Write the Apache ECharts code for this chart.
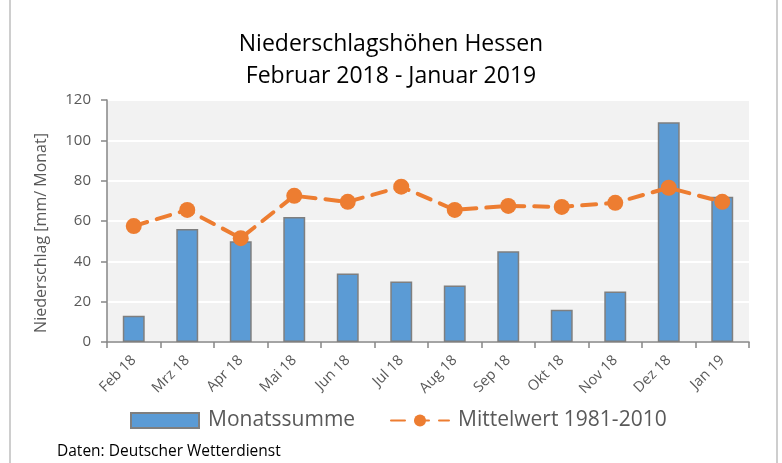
<!DOCTYPE html>
<html>
<head>
<meta charset="utf-8">
<script src="https://cdn.jsdelivr.net/npm/echarts@6/dist/echarts.min.js"></script>
<style>
  html, body { margin: 0; padding: 0; background: #fff; }
  #chart { width: 782px; height: 463px; }
</style>
</head>
<body>
<div id="chart"></div>
<script>
// Monate Feb 2018 - Jan 2019
const months = ['Feb 18', 'Mrz 18', 'Apr 18', 'Mai 18', 'Jun 18', 'Jul 18', 'Aug 18', 'Sep 18', 'Okt 18', 'Nov 18', 'Dez 18', 'Jan 19'];
const monatssumme = [13, 56, 50, 62, 34, 30, 28, 45, 16, 25, 109, 72];
const mittelwert = [57.5, 65.5, 51.5, 72.5, 69.5, 77, 65.5, 67.5, 67, 69, 76.5, 69.5];
const yTicks = [0, 20, 40, 60, 80, 100, 120];

const font = 'Open Sans';
const legendText = { fontFamily: font, fontSize: 21, color: '#595959', padding: [0, 0, 0, 4] };
const chart = echarts.init(document.getElementById('chart'));

chart.setOption({
  animation: false,
  textStyle: { fontFamily: font },
  title: {
    text: 'Niederschlagshöhen Hessen\nFebruar 2018 - Januar 2019',
    left: 'center',
    top: 23,
    textStyle: { fontFamily: font, fontSize: 23, fontWeight: 'normal', color: '#000', lineHeight: 32 }
  },
  graphic: [
    {
      type: 'rect',
      shape: { x: 10, y: -5, width: 767, height: 480 },
      style: { fill: 'none', stroke: '#bfbfbf', lineWidth: 1.5 },
      silent: true
    },
    {
      type: 'text',
      left: 57,
      top: 444,
      style: { text: 'Daten: Deutscher Wetterdienst', fontFamily: font, fontSize: 15.5, fill: '#000' }
    }
  ],
  legend: [
    {
      top: 405,
      left: 125,
      itemWidth: 68,
      itemHeight: 15,
      textStyle: legendText,
      data: [{ name: 'Monatssumme', icon: 'rect' }]
    },
    {
      top: 405,
      left: 385,
      itemWidth: 58,
      itemHeight: 15,
      textStyle: legendText,
      data: [{ name: 'Mittelwert 1981-2010' }]
    }
  ],
  grid: {
    left: 107,
    right: 33,
    top: 100,
    bottom: 121,
    show: true,
    backgroundColor: '#f2f2f2',
    borderWidth: 0
  },
  xAxis: {
    type: 'category',
    data: months,
    axisLine: { lineStyle: { color: '#868686', width: 1.5 } },
    axisTick: { show: true, length: 6, lineStyle: { color: '#868686', width: 1.5 } },
    axisLabel: { rotate: 45, fontSize: 14.5, color: '#595959', margin: 16, interval: 0 }
  },
  yAxis: {
    type: 'value',
    min: yTicks[0],
    max: yTicks[yTicks.length - 1],
    interval: 20,
    name: 'Niederschlag [mm/ Monat]',
    nameLocation: 'middle',
    nameGap: 58,
    nameTextStyle: { fontSize: 16, color: '#595959', padding: [0, 24, 0, 0] },
    axisLine: { show: true, lineStyle: { color: '#868686', width: 1.5 } },
    axisTick: { show: true, length: 6, lineStyle: { color: '#868686', width: 1.5 } },
    axisLabel: { fontSize: 15, color: '#595959', margin: 16 },
    splitLine: { lineStyle: { color: '#ffffff', width: 2 } }
  },
  series: [
    {
      name: 'Monatssumme',
      type: 'bar',
      data: monatssumme,
      barWidth: '41%',
      itemStyle: { color: '#5b9bd5', borderColor: '#7f7f7f', borderWidth: 1.5 }
    },
    {
      name: 'Mittelwert 1981-2010',
      type: 'line',
      data: mittelwert,
      symbol: 'circle',
      symbolSize: 16,
      itemStyle: { color: '#ed7d31' },
      lineStyle: { color: '#ed7d31', width: 4, type: [14, 10], cap: 'round' }
    }
  ]
});
</script>
</body>
</html>
